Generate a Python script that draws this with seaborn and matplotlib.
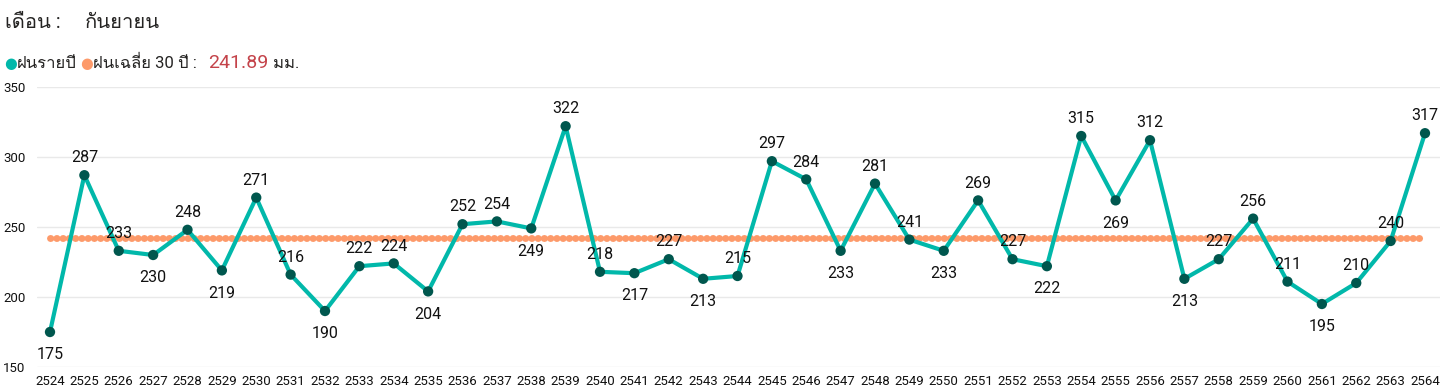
import numpy as np
import pandas as pd
import matplotlib
matplotlib.use("Agg")
from matplotlib import pyplot as plt
from matplotlib import font_manager
from matplotlib.ft2font import FT2Font
import seaborn as sns

years = list(range(2524, 2565))
rain = [175, 287, 233, 230, 248, 219, 271, 216, 190, 222, 224, 204, 252, 254,
        249, 322, 218, 217, 227, 213, 215, 297, 284, 233, 281, 241, 233, 269,
        227, 222, 315, 269, 312, 213, 227, 256, 211, 195, 210, 240, 317]
avg30 = 241.89
month_name = "กันยายน"
yticks = [150, 200, 250, 300, 350]


def findThaiFont():
    # look for any installed font that actually has Thai glyphs
    for f in font_manager.fontManager.ttflist:
        try:
            ft = FT2Font(f.fname)
            if ft.get_char_index(0x0E01) and ft.get_char_index(0x0E19):
                return f.name
        except Exception:
            continue
    return None


sns.set_theme(style="white")
thai = findThaiFont()
fams = ["Roboto", "DejaVu Sans"]
if thai:
    fams = ["Roboto", thai, "DejaVu Sans"]
plt.rcParams["font.family"] = fams

df = pd.DataFrame({"year": years, "rain": rain})
df["idx"] = range(len(df))

fig = plt.figure(figsize=(14.45, 3.91), dpi=100)
ax = fig.add_axes([37 / 1445, 1 - 367 / 391, 1403 / 1445, 280 / 391])

avg_line = ax.hlines(avg30, 0, len(years) - 1, color="#FD9A6A", linewidth=5,
                     linestyles=(0, (0.05, 0.85)), zorder=2)
avg_line.set_capstyle("round")

sns.lineplot(data=df, x="idx", y="rain", ax=ax, color="#01B8AA",
             linewidth=3, zorder=3)
sns.scatterplot(data=df, x="idx", y="rain", ax=ax, color="#00574E", s=55,
                edgecolor="none", zorder=4, clip_on=False)

for i, v in enumerate(rain):
    prev = rain[i - 1] if i > 0 else None
    nxt = rain[i + 1] if i < len(rain) - 1 else None
    below = (prev is None or v < prev) and (nxt is None or v < nxt)
    if below:
        ax.annotate(str(v), (i, v), xytext=(0, -11), textcoords="offset points",
                    ha="center", va="top", fontsize=11.5, color="#111111")
    else:
        ax.annotate(str(v), (i, v), xytext=(0, 7), textcoords="offset points",
                    ha="center", va="bottom", fontsize=11.5, color="#111111")

ax.set_xlim(-13 / 34.375, 40 + 15 / 34.375)
ax.set_ylim(150, 350)
ax.set_yticks(yticks)
ax.set_xticks(range(len(years)))
ax.set_xticklabels([str(y) for y in years])
ax.tick_params(axis="x", labelsize=9.5, length=0, pad=6, colors="#111111")
ax.tick_params(axis="y", labelsize=9.5, length=0, pad=0, colors="#111111")
for lbl in ax.get_yticklabels():
    lbl.set_horizontalalignment("left")
    lbl.set_x(-34 / 1403)
ax.grid(axis="y", color="#E9E9E9", linewidth=1)
ax.set_axisbelow(True)
sns.despine(ax=ax, left=True, bottom=True)
ax.set_xlabel("")
ax.set_ylabel("")

fig.text(5 / 1445, 1 - 22 / 391, "เดือน :", fontsize=14.5, va="center",
         color="#252423")
fig.text(85 / 1445, 1 - 22 / 391, month_name, fontsize=14.5, va="center",
         color="#252423")

ly = 1 - 63 / 391
fig.text(4 / 1445, ly, "●", fontsize=10.5, va="center", color="#01B8AA",
         family=["DejaVu Sans"])
fig.text(17 / 1445, ly, "ฝนรายปี", fontsize=12, va="center", color="#252423")
fig.text(80 / 1445, ly, "●", fontsize=10.5, va="center", color="#FD9A6A",
         family=["DejaVu Sans"])
fig.text(93 / 1445, ly, "ฝนเฉลี่ย 30 ปี :", fontsize=12, va="center",
         color="#252423")
fig.text(208 / 1445, ly, f"{avg30:.2f}", fontsize=14, va="center",
         color="#C4434A")
fig.text(273 / 1445, ly, "มม.", fontsize=12, va="center", color="#252423")

fig.savefig("out.png", dpi=100)
